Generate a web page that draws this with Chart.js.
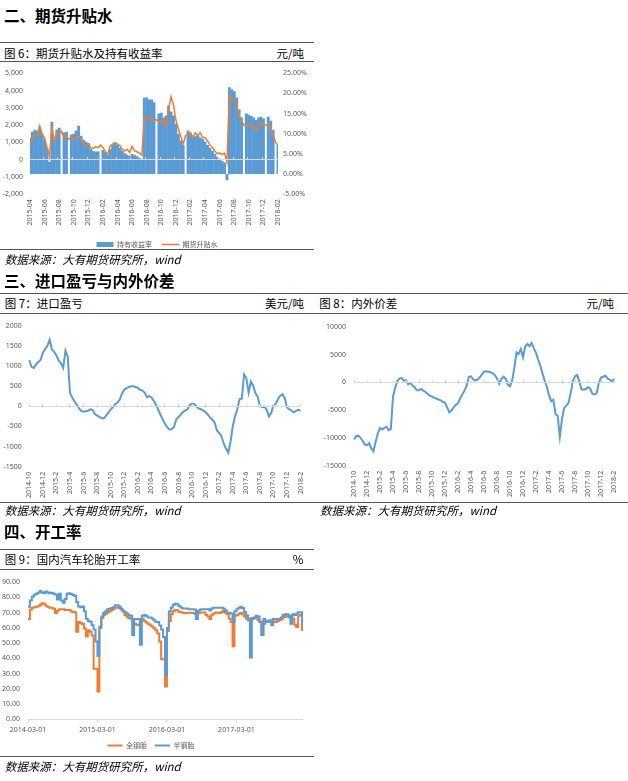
<!DOCTYPE html>
<html lang="zh-CN">
<head>
<meta charset="utf-8">
<title>期货升贴水 / 进口盈亏与内外价差 / 开工率</title>
<script src="https://cdn.jsdelivr.net/npm/chart.js@4.4.1/dist/chart.umd.min.js"></script>
<style>
  html, body { margin: 0; padding: 0; background: #fff; }
  body { width: 628px; height: 781px; position: relative; overflow: hidden;
         font-family: "Noto Sans CJK SC", "Noto Sans", sans-serif; color: #000; }
  .h { position: absolute; left: 4px; font-size: 15.5px; font-weight: 700; line-height: 1; white-space: nowrap; }
  .rule { position: absolute; height: 1px; background: #555; }
  .ttl { position: absolute; font-size: 11.5px; line-height: 1; white-space: nowrap; }
  .src { position: absolute; font-size: 11.5px; line-height: 1; font-style: italic; white-space: nowrap; }
  canvas { position: absolute; }
</style>
</head>
<body>

<div class="h" style="top:8.3px">二、期货升贴水</div>
<div class="rule" style="left:0;width:314px;top:42px"></div>
<div class="ttl" style="left:4px;top:47.5px">图 6：期货升贴水及持有收益率</div>
<div class="ttl" style="right:324px;top:47.5px">元/吨</div>
<div class="rule" style="left:0;width:314px;top:61px"></div>
<canvas id="fig6" width="314" height="196" style="left:0;top:62px"></canvas>
<div class="rule" style="left:0;width:314px;top:249px"></div>
<div class="src" style="left:4.7px;top:253.8px">数据来源：大有期货研究所，wind</div>

<div class="h" style="top:273.3px">三、进口盈亏与内外价差</div>
<div class="rule" style="left:0;width:628px;top:293px"></div>
<div class="ttl" style="left:4.7px;top:297.5px">图 7：进口盈亏</div>
<div class="ttl" style="right:324px;top:297.5px">美元/吨</div>
<div class="ttl" style="left:319.3px;top:297.5px">图 8：内外价差</div>
<div class="ttl" style="right:14px;top:297.5px">元/吨</div>
<div class="rule" style="left:0;width:628px;top:312.5px"></div>
<canvas id="fig7" width="314" height="190" style="left:0;top:314px"></canvas>
<canvas id="fig8" width="314" height="190" style="left:314px;top:314px"></canvas>
<div class="rule" style="left:0;width:628px;top:502px"></div>
<div class="src" style="left:4.7px;top:504.5px">数据来源：大有期货研究所，wind</div>
<div class="src" style="left:320px;top:504.5px">数据来源：大有期货研究所，wind</div>

<div class="h" style="top:524.3px">四、开工率</div>
<div class="rule" style="left:0;width:314px;top:549px"></div>
<div class="ttl" style="left:4.7px;top:554px">图 9：国内汽车轮胎开工率</div>
<div class="ttl" style="right:324.7px;top:554px">%</div>
<div class="rule" style="left:0;width:314px;top:569px"></div>
<canvas id="fig9" width="314" height="189" style="left:0;top:570px"></canvas>
<div class="rule" style="left:0;width:314px;top:756px"></div>
<div class="src" style="left:4.7px;top:761px">数据来源：大有期货研究所，wind</div>

<script>
// 图6：期货升贴水(元/吨) 与 持有收益率(%)，每月 1/11/21 日取样，2015-04-01 起
const fig6Spread = [
  850, 1250, 1450, 1400, 1950, 1500, 1250, 700, 200, 1850,
  1100, 1550, 1450, 1650, 1280, 1370, 1180, 1280, 1180, 1280,
  1370, 1250, 900, 840, 900, 700, 650, 760, 700, 840,
  700, 480, 320, 800, 900, 990, 900, 800, 600, 510,
  600, 420, 780, 510, 460, 380, 260, 2480, 2450, 2320,
  2420, 2230, 2320, 2230, 2130, 2320, 1940, 2900, 3650, 3180,
  2300, 1800, 1350, 900, 1400, 1400, 1560, 1280, 1560, 1400,
  1560, 1280, 1280, 1090, 850, 700, 500, 350, 400, 300,
  380, -150, 3750, 3560, 3470, 3150, 2550, 2250, 2000, 1960,
  2000, 2050, 1900, 1680, 2000, 2040, 2130, 1980, 2020, 1800,
  1450, 1000, 850
];
const fig6Carry = [
  9.0, 10.5, 11.0, 10.8, 11.7, 10.0, 8.5, 6.5, 3.0, 13.0,
  8.5, 11.0, 11.5, null, 10.3, 10.5, null, 9.8, 10.0, 10.8,
  12.0, 9.5, 8.5, 8.0, 7.7, 6.3, 5.7, 5.6, 5.6, null,
  6.0, 5.5, 4.8, 6.2, 7.3, 7.7, 7.3, 6.5, 5.8, 5.2,
  4.8, 4.5, 5.0, 4.7, 4.4, 4.0, 3.6, 18.9, 19.0, 18.5,
  18.5, 17.8, null, 15.0, 15.2, 14.0, 14.5, 17.0, 15.5, 14.5,
  12.5, 10.0, 8.3, 7.2, null, 10.8, 10.2, 9.6, 9.4, 9.7,
  9.1, 8.7, 8.1, 7.2, 6.5, 5.8, 5.0, 4.3, 3.8, 3.3,
  2.9, -1.5, 21.5, 21.0, 20.5, 19.0, 16.0, 14.0, null, 15.0,
  14.7, 14.4, 14.0, 13.4, 14.0, 14.2, 13.8, null, 14.2, 13.2,
  11.0, null, 7.3
];
const fig6Ticks = ['2015-04', '2015-06', '2015-08', '2015-10', '2015-12', '2016-02', '2016-04', '2016-06',
  '2016-08', '2016-10', '2016-12', '2017-02', '2017-04', '2017-06', '2017-08', '2017-10', '2017-12', '2018-02'];

// 图7：进口盈亏(美元/吨)，图8：内外价差(元/吨)，2014-10-01 起
const fig7Profit = [
  1150, 980, 950, 1040, 1100, 1150, 1330, 1420, 1500, 1650,
  1410, 1350, 1260, 1130, 1070, 950, 1380, 1230, 330, 220,
  120, 40, -50, -115, -135, -125, -110, -75, -90, -195,
  -230, -265, -300, -300, -230, -160, -75, -25, 50, 95,
  165, 320, 410, 450, 475, 494, 494, 480, 460, 410,
  390, 340, 230, 250, 220, 140, 40, -80, -210, -320,
  -437, -518, -575, -570, -510, -330, -265, -210, -140, -105,
  -75, 30, 65, 60, -10, -60, -73, -110, -145, -210,
  -280, -340, -410, -600, -665, -740, -930, -1050, -1150, -880,
  -500, -250, -80, 180, 190, 790, 700, 340, 616, 520,
  330, 240, 0, -20, -10, -90, -250, -160, 30, 60,
  180, 260, 300, 200, -30, -80, -105, -150, -115, -90,
  -110
];
const fig8Spread = [
  -10300, -9700, -9600, -10000, -10500, -11200, -11300, -10950, -11900, -12400,
  -10700, -9200, -8220, -8500, -8220, -8000, -8600, -8400, -2600, -1000,
  200, 700, 750, 300, 400, -350, -120, -600, -900, -1450,
  -1450, -1200, -1500, -1750, -2100, -2400, -2550, -2800, -2920, -3100,
  -3250, -3500, -3650, -4500, -5400, -5100, -4500, -4050, -3800, -2900,
  -2200, -1500, -600, 1000, 1080, 500, 320, 420, 900, 1400,
  1900, 2000, 1900, 1800, 1600, 1300, 700, -300, 600, 1000,
  650, -400, -720, 300, 2580, 5400, 5100, 6000, 4500, 6400,
  6900, 6500, 7080, 6100, 5300, 4100, 3000, 1600, 300, -800,
  -2300, -3400, -3120, -5700, -6000, -9800, -6600, -4600, -4200, -3700,
  -2000, 200, 1080, 1300, 180, -1300, -1300, -1200, -900, -1100,
  -2100, -2200, -1950, -100, 850, 1000, 1200, 700, 500, 180,
  600
];
const fig78Ticks = ['2014-10', '2014-12', '2015-2', '2015-4', '2015-6', '2015-8', '2015-10', '2015-12',
  '2016-2', '2016-4', '2016-6', '2016-8', '2016-10', '2016-12', '2017-2', '2017-4', '2017-6', '2017-8',
  '2017-10', '2017-12', '2018-2'];

// 图9：全钢胎 / 半钢胎 开工率(%)，2014-03-01 起
const fig9Radial = [
  73.9, 78, 80.5, 81.7, 82.5, 83, 84.3, 83.2, 82.8, 83.9,
  83.2, 82.8, 83, 82.5, 82, 78.6, 82.5, 78, 76.5, 79,
  82.5, 82.8, 82.3, 81.6, 81, 77, 74, 73.5, 74, 71,
  66, 64.5, 64, 61.7, 59, 51.1, 41.6, 60, 67.5, 70,
  71, 72.2, 72.6, 73, 73.5, 74.8, 74.8, 74, 72.5, 71,
  70.3, 69.4, 68.3, 68, 55.3, 65.8, 65.8, 65.8, 49, 68,
  68.5, 67.8, 66.9, 66.9, 66.2, 65, 63.8, 63.8, 61.5, 59,
  54, 28.9, 60, 70.8, 73.3, 75.2, 75.8, 75.5, 74.3, 73.4,
  72.8, 72.7, 72.7, 72.2, 72.2, 72.2, 72, 65.8, 71.2, 72,
  72.2, 72.2, 72.2, 72.2, 71.5, 72.8, 73.3, 73.3, 73.3, 73.3,
  73.3, 72.8, 71.5, 70, 69.7, 69.5, 63.8, 71, 72.2, 73.3,
  73.9, 73, 70.5, 68.2, 66.2, 40.6, 65.8, 66.7, 68, 67.5,
  64, 55.3, 65.8, 64.2, 64.5, 65, 61.7, 65.8, 65.8, 65.8,
  65.8, 66.9, 68.5, 69, 69, 68, 62.7, 69, 68.5, 69.5,
  70.3, 70.3, 61.7
];
const fig9Steel = [
  65.9, 72, 73.3, 73.6, 73.9, 74.2, 75, 76.2, 75.8, 74.6,
  73.9, 73.3, 73.3, 72.5, 69.7, 71.2, 72.2, 72.2, 72.2, 71.8,
  71.8, 71.8, 71, 70.5, 70.1, 57.4, 63.8, 63.2, 62.5, 59.6,
  54.3, 58.5, 57.5, 55, 33.2, 33.2, 18.3, 61, 66.5, 68.5,
  69.3, 70.1, 71, 71.7, 72.5, 73.3, 73.3, 73, 72, 71,
  68.5, 67.3, 66.5, 66, 64.8, 62.7, 62, 61.7, 65.8, 65.8,
  64.6, 63.5, 62.7, 61.7, 60.9, 59.8, 58.5, 56.4, 51.1, 39.4,
  39.4, 21.5, 58, 64.5, 69, 71, 71.8, 71.6, 70.5, 70.2,
  70, 69.8, 69.7, 70, 70, 69.7, 69.4, 69, 69.6, 70.1,
  70.1, 70.1, 68.5, 67.5, 65.8, 68.7, 69.5, 70.1, 70, 69.7,
  70.5, 71.2, 70, 69, 66, 63.8, 47.9, 68, 68.4, 69.3,
  69.7, 69, 67.5, 66, 64.8, 65.8, 66.5, 66.9, 66.3, 65,
  63.8, 55.3, 62.7, 63.8, 63.8, 63.8, 64, 64.2, 63.8, 64.5,
  65, 65.8, 67, 68, 67.3, 66.9, 68, 66, 62, 60.6,
  68, 68.4, 58
];
const fig9Ticks = ['2014-03-01', '2015-03-01', '2016-03-01', '2017-03-01'];

const BLUE = '#5B9BD5';
const ORANGE = '#ED7D31';
const AXIS = '#D9D9D9';

// 日期类别：每月 1/11/21 日
function buildDays(year, month, count) {
  const days = [1, 11, 21];
  const out = [];
  let k = 0;
  while (out.length < count) {
    out.push(year + '-' + String(month).padStart(2, '0') + '-' + String(days[k]).padStart(2, '0'));
    k++;
    if (k === days.length) {
      k = 0;
      month++;
      if (month > 12) { month = 1; year++; }
    }
  }
  return out;
}

function everyNth(n, list) {
  return (v, i) => (i % n === 0 ? list[i / n] : '');
}

function markColor(n) {
  return ctx => (ctx.index % n === 0 ? AXIS : 'rgba(0,0,0,0)');
}

// 零值处的横轴线（带刻度）
function zeroAxis(n) {
  return {
    type: 'category',
    position: { y: 0 },
    offset: false,
    ticks: { display: false },
    grid: { drawOnChartArea: false, drawTicks: true, tickLength: -3, color: markColor(n), z: 1 },
    border: { display: true, color: AXIS, width: 1, z: 1 }
  };
}

function rotatedX(n, list, height) {
  return {
    offset: false,
    ticks: { autoSkip: false, minRotation: 90, maxRotation: 90, padding: 5, callback: everyNth(n, list) },
    grid: { display: false, drawTicks: false },
    border: { display: false },
    afterFit: s => { s.height = height; }
  };
}

function plainY(min, max, step, pad, width, fmt, pos) {
  return {
    position: pos || 'left',
    min: min,
    max: max,
    ticks: { stepSize: step, padding: pad, callback: fmt || (v => v) },
    grid: { display: false, drawTicks: false },
    border: { display: false },
    afterFit: s => { s.width = width; }
  };
}

Chart.defaults.font.family = '"Noto Sans", "Noto Sans CJK SC", sans-serif';
Chart.defaults.font.size = 7;
Chart.defaults.color = '#595959';
Chart.defaults.animation = false;
Chart.defaults.plugins.tooltip.enabled = false;

const fig6Days = buildDays(2015, 4, fig6Spread.length);
const fig78Days = buildDays(2014, 10, fig7Profit.length);
const fig9Days = buildDays(2014, 3, fig9Steel.length);

// 图6
new Chart(document.getElementById('fig6'), {
  type: 'bar',
  data: {
    labels: fig6Days,
    datasets: [
      {
        type: 'bar', label: '持有收益率', data: fig6Carry, yAxisID: 'y1',
        backgroundColor: BLUE, borderWidth: 0, barPercentage: 1.2, categoryPercentage: 1, order: 2
      },
      {
        type: 'line', label: '期货升贴水', data: fig6Spread, yAxisID: 'y',
        borderColor: ORANGE, borderWidth: 1.5, pointRadius: 0, tension: 0, order: 1
      }
    ]
  },
  options: {
    responsive: false,
    layout: { padding: { top: 9.7, right: 0, bottom: 0, left: 0 } },
    plugins: {
      legend: {
        position: 'bottom',
        labels: {
          usePointStyle: true, pointStyleWidth: 17, boxHeight: 5, padding: 10,
          sort: (a, b) => a.datasetIndex - b.datasetIndex,
          generateLabels: chart => Chart.defaults.plugins.legend.labels.generateLabels(chart).map(item => {
            item.pointStyle = item.datasetIndex === 0 ? 'rect' : 'line';
            return item;
          })
        }
      }
    },
    scales: {
      x: rotatedX(6, fig6Ticks, 36.7),
      xZero: zeroAxis(6),
      y: plainY(-2000, 5000, 1000, 7, 30, v => v.toLocaleString('en-US')),
      y1: plainY(-5, 25, 5, 5, 36, v => v.toFixed(2) + '%', 'right')
    }
  }
});

// 图7
new Chart(document.getElementById('fig7'), {
  type: 'line',
  data: {
    labels: fig78Days,
    datasets: [{ label: '进口盈亏', data: fig7Profit, borderColor: BLUE, borderWidth: 2, pointRadius: 0, tension: 0 }]
  },
  options: {
    responsive: false,
    layout: { padding: { top: 8.7, right: 10, bottom: 0, left: 0 } },
    plugins: { legend: { display: false } },
    scales: {
      x: rotatedX(6, fig78Ticks, 37.3),
      xZero: zeroAxis(6),
      y: plainY(-1500, 2000, 500, 7.5, 29.3)
    }
  }
});

// 图8
new Chart(document.getElementById('fig8'), {
  type: 'line',
  data: {
    labels: fig78Days,
    datasets: [{ label: '内外价差', data: fig8Spread, borderColor: BLUE, borderWidth: 2, pointRadius: 0, tension: 0 }]
  },
  options: {
    responsive: false,
    layout: { padding: { top: 12.7, right: 14, bottom: 0, left: 0 } },
    plugins: { legend: { display: false } },
    scales: {
      x: rotatedX(6, fig78Ticks, 38.3),
      xZero: zeroAxis(6),
      y: plainY(-15000, 10000, 5000, 8, 40)
    }
  }
});

// 图9
new Chart(document.getElementById('fig9'), {
  type: 'line',
  data: {
    labels: fig9Days,
    datasets: [
      { label: '半钢胎', data: fig9Radial, borderColor: BLUE, borderWidth: 2, pointRadius: 0, stepped: true },
      { label: '全钢胎', data: fig9Steel, borderColor: ORANGE, borderWidth: 2, pointRadius: 0, stepped: true }
    ]
  },
  options: {
    responsive: false,
    layout: { padding: { top: 7.3, right: 12, bottom: 0, left: 0 } },
    plugins: {
      legend: {
        position: 'bottom',
        labels: {
          usePointStyle: true, pointStyle: 'line', pointStyleWidth: 15, boxHeight: 7, padding: 8,
          sort: (a, b) => b.datasetIndex - a.datasetIndex
        }
      }
    },
    scales: {
      x: {
        offset: false,
        ticks: { autoSkip: false, minRotation: 0, maxRotation: 0, padding: 3, callback: everyNth(36, fig9Ticks) },
        grid: { drawOnChartArea: false, drawTicks: true, tickLength: 3, color: markColor(36) },
        border: { display: true, color: AXIS },
        afterFit: s => { s.height = 14.7; }
      },
      y: plainY(0, 90, 10, 8, 28, v => v.toFixed(2))
    }
  }
});
</script>
</body>
</html>
